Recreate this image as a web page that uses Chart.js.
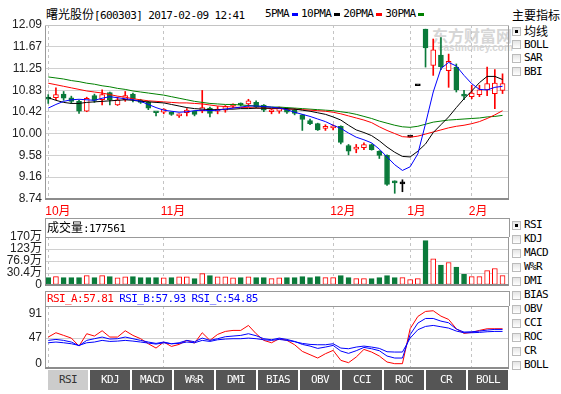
<!DOCTYPE html>
<html>
<head>
<meta charset="utf-8">
<title>曙光股份</title>
<script src="https://cdn.jsdelivr.net/npm/chart.js@4.4.1/dist/chart.umd.min.js"></script>
<style>
  body { margin: 0; width: 561px; height: 394px; position: relative; overflow: hidden; background: #fff;
         font-family: "Liberation Sans", "Noto Sans CJK SC", sans-serif; font-size: 12px; color: #000; }
  .abs { position: absolute; white-space: nowrap; }
  .cjk { font-family: "Noto Sans CJK SC", sans-serif; font-size: 12px; }
  .mono { font-family: "DejaVu Sans Mono", "Noto Sans CJK SC", monospace; font-size: 11px; letter-spacing: -0.6px; }
  canvas { position: absolute; left: 0; z-index: 1; }
  .box { position: absolute; left: 45px; width: 463px; border: 1px solid #999; border-bottom: none; z-index: 2; }
  .chk { position: absolute; left: 512px; width: 7px; height: 7px; border: 1px solid #bbb; background: linear-gradient(#e4e4e4, #fff); }
  .chk.on::after { content: ""; position: absolute; left: 2px; top: 2px; width: 3px; height: 3px; background: #000; }
  .item { position: absolute; left: 524px; line-height: 14px; white-space: nowrap; }
  .btn { position: absolute; top: 370px; width: 40px; height: 20px; line-height: 20px; text-align: center;
         background: #555; color: #fff; z-index: 3; }
  .btn.on { background: #ccc; color: #333; }
  .sq { display: inline-block; width: 6px; height: 3px; margin: 0 3px; vertical-align: middle; }
  #wm { position: absolute; left: 432px; top: 27px; color: #d6d6d6; z-index: 0; font-weight: bold; line-height: 16px; }
</style>
</head>
<body>

<div class="abs" style="left:46px;top:7px;line-height:14px;"><span class="cjk">曙光股份</span><span class="mono">[600303] 2017-02-09 12:41</span></div>
<div class="abs mono" style="left:265px;top:7px;line-height:14px;">5PMA<span class="sq" style="background:#0000ff"></span>10PMA<span class="sq" style="background:#000"></span>20PMA<span class="sq" style="background:#ff0000"></span>30PMA<span class="sq" style="background:#008000"></span></div>

<div id="wm"><div style="font-size:16px;font-family:'Noto Sans CJK SC',sans-serif;">东方财富网</div><div style="font-size:10px;padding-left:6px;line-height:10px;">eastmoney.com</div></div>

<div class="box" style="top:218px;height:18px;"><span style="position:absolute;left:1px;top:1px;line-height:14px;"><span class="cjk">成交量</span><span class="mono">:177561</span></span></div>
<div class="box mono" style="top:291px;height:14px;line-height:14px;">
  <span style="margin-left:1px;color:#ff0000">RSI_A:57.81</span> <span style="color:#0000ff">RSI_B:57.93</span> <span style="color:#0000ff">RSI_C:54.85</span>
</div>

<canvas id="main" width="511" height="204" style="top:14px"></canvas>
<canvas id="vol" width="511" height="78" style="top:218px"></canvas>
<canvas id="rsi" width="511" height="88" style="top:291px"></canvas>

<div class="abs cjk" style="left:512px;top:8px;line-height:14px;">主要指标</div>
<div id="side"></div>

<script>
// ---- values ----
const monthLabels = ['10月', '11月', '12月', '1月', '2月'];
const monthStart = [0, 15, 37, 47, 55];          // candle index where each month starts

const priceTicks = [8.74, 9.16, 9.58, 10.00, 10.42, 10.83, 11.25, 11.67, 12.09];
const volTicks = [-16, 30.4, 76.9, 123, 170];     // panel floor is labelled "0"
const rsiTicks = [0, 47, 91];

const open = [
  10.70, 10.69, 10.76, 10.69, 10.62, 10.43, 10.73, 10.65, 10.79, 10.55,
  10.65, 10.76, 10.64, 10.60, 10.41, 10.41, 10.41, 10.34, 10.40, 10.43,
  10.44, 10.49, 10.43, 10.45, 10.53, 10.57, 10.57, 10.60, 10.55, 10.42,
  10.43, 10.47, 10.45, 10.36, 10.25, 10.19, 10.10, 10.11, 10.14, 9.77,
  9.70, 9.73, 9.79, 9.66, 9.58, 9.08, 9.03, 9.93, 10.92, 12.01,
  11.31, 11.51, 11.21, 11.28, 10.74, 10.71, 10.75, 10.84, 10.77, 10.83
];
const close = [
  10.66, 10.75, 10.68, 10.62, 10.43, 10.68, 10.64, 10.75, 10.65, 10.65,
  10.73, 10.66, 10.60, 10.49, 10.40, 10.47, 10.37, 10.35, 10.45, 10.37,
  10.50, 10.39, 10.47, 10.52, 10.55, 10.55, 10.63, 10.51, 10.45, 10.43,
  10.50, 10.41, 10.39, 10.27, 10.19, 10.07, 10.11, 10.12, 9.83, 9.66,
  9.71, 9.79, 9.69, 9.58, 9.02, 9.05, 9.03, 9.93, 10.92, 11.65,
  11.61, 11.29, 11.39, 10.84, 10.72, 10.78, 10.84, 10.96, 10.97, 10.96
];
const high = [
  10.75, 10.88, 10.81, 10.72, 10.64, 10.70, 10.76, 10.84, 10.80, 10.70,
  10.81, 10.78, 10.66, 10.62, 10.41, 10.48, 10.42, 10.38, 10.48, 10.44,
  10.83, 10.51, 10.52, 10.54, 10.57, 10.59, 10.66, 10.63, 10.56, 10.47,
  10.51, 10.49, 10.48, 10.37, 10.28, 10.20, 10.17, 10.17, 10.15, 9.79,
  9.79, 9.82, 9.80, 9.67, 9.59, 9.09, 9.11, 9.93, 10.92, 12.01,
  11.82, 11.85, 11.53, 11.34, 10.83, 10.93, 10.93, 11.28, 11.23, 11.15
];
const low = [
  10.58, 10.65, 10.64, 10.58, 10.39, 10.42, 10.60, 10.55, 10.55, 10.54,
  10.62, 10.61, 10.58, 10.46, 10.34, 10.38, 10.35, 10.31, 10.34, 10.34,
  10.40, 10.32, 10.38, 10.41, 10.50, 10.53, 10.52, 10.50, 10.42, 10.38,
  10.39, 10.39, 10.36, 10.06, 10.17, 10.06, 10.06, 10.07, 9.80, 9.59,
  9.63, 9.69, 9.68, 9.52, 9.00, 8.85, 8.88, 9.93, 10.92, 11.28,
  11.12, 11.23, 10.89, 10.80, 10.65, 10.67, 10.71, 10.73, 10.48, 10.77
];

const ma5 = [
  10.49, 10.56, 10.62, 10.65, 10.66, 10.65, 10.64, 10.68, 10.71, 10.69,
  10.67, 10.65, 10.62, 10.56, 10.50, 10.45, 10.43, 10.41, 10.42, 10.44,
  10.45, 10.44, 10.45, 10.47, 10.49, 10.51, 10.53, 10.53, 10.52, 10.51,
  10.49, 10.46, 10.41, 10.37, 10.33, 10.28, 10.23, 10.16, 10.10, 10.01,
  9.93, 9.88, 9.82, 9.70, 9.55, 9.40, 9.29, 9.36, 9.61, 10.19,
  10.80, 11.25, 11.37, 11.30, 11.12, 10.96, 10.85, 10.84, 10.89, 10.91
];
const ma10 = [
  10.69, 10.64, 10.60, 10.58, 10.58, 10.60, 10.61, 10.62, 10.63, 10.64,
  10.65, 10.64, 10.62, 10.61, 10.60, 10.59, 10.56, 10.53, 10.50, 10.48,
  10.47, 10.46, 10.46, 10.47, 10.47, 10.48, 10.48, 10.49, 10.49, 10.49,
  10.49, 10.48, 10.47, 10.45, 10.43, 10.40, 10.37, 10.32, 10.26, 10.16,
  10.07, 10.02, 9.96, 9.86, 9.74, 9.64, 9.56, 9.55, 9.66, 9.80,
  10.02, 10.17, 10.32, 10.50, 10.67, 10.82, 10.98, 11.10, 11.10, 11.04
];
const ma20 = [
  10.97, 10.94, 10.91, 10.88, 10.85, 10.82, 10.80, 10.78, 10.75, 10.72,
  10.70, 10.67, 10.65, 10.63, 10.62, 10.61, 10.60, 10.59, 10.59, 10.58,
  10.57, 10.55, 10.53, 10.52, 10.51, 10.50, 10.50, 10.49, 10.49, 10.48,
  10.48, 10.47, 10.47, 10.46, 10.45, 10.44, 10.43, 10.41, 10.38, 10.34,
  10.30, 10.26, 10.21, 10.13, 10.06, 10.00, 9.94, 9.93, 9.95, 9.99,
  10.03, 10.07, 10.11, 10.14, 10.16, 10.19, 10.23, 10.29, 10.36, 10.44
];
const ma30 = [
  11.09, 11.07, 11.05, 11.02, 11.00, 10.97, 10.95, 10.92, 10.90, 10.87,
  10.85, 10.82, 10.80, 10.78, 10.76, 10.74, 10.71, 10.68, 10.65, 10.62,
  10.60, 10.58, 10.57, 10.56, 10.56, 10.55, 10.54, 10.53, 10.52, 10.51,
  10.51, 10.50, 10.49, 10.48, 10.47, 10.46, 10.45, 10.44, 10.42, 10.40,
  10.37, 10.33, 10.29, 10.24, 10.20, 10.16, 10.13, 10.12, 10.14, 10.18,
  10.22, 10.24, 10.26, 10.27, 10.28, 10.29, 10.30, 10.32, 10.33, 10.35
];

// volume in 万
const volume = [
  12.7, 16.6, 12.7, 12.7, 12.7, 20.5, 12.7, 20.5, 16.6, 11.4,
  15.3, 16.6, 12.7, 12.7, 12.7, 11.4, 12.7, 15.3, 15.3, 8.8,
  28.3, 20.5, 15.3, 15.3, 11.4, 12.7, 15.3, 12.7, 12.7, 8.8,
  12.0, 12.7, 12.7, 16.6, 12.7, 16.6, 12.7, 12.7, 20.5, 12.7,
  8.8, 8.8, 8.8, 12.7, 20.5, 12.7, 12.7, 4.9, 8.8, 155.7,
  85.5, 60.8, 71.2, 53.0, 25.7, 16.6, 16.6, 40.0, 47.8, 20.5
];

const rsiA = [
  48.9, 56.7, 51.9, 47.0, 32.6, 54.9, 50.7, 60.3, 48.9, 48.9,
  60.3, 51.9, 45.9, 36.8, 29.0, 39.9, 32.0, 35.6, 42.9, 38.0,
  56.7, 42.9, 53.7, 59.1, 60.9, 60.9, 69.9, 54.9, 42.9, 38.6,
  45.9, 42.9, 35.0, 23.0, 17.0, 11.0, 18.8, 24.8, 6.8, 2.6,
  12.8, 26.6, 21.8, 14.6, 3.8, 0.8, 0.8, 63.9, 86.1, 95.2,
  96.4, 86.7, 80.7, 63.9, 55.5, 57.3, 60.9, 63.9, 63.9, 63.9
];
const rsiB = [
  42.9, 44.6, 42.9, 39.9, 33.2, 42.9, 45.9, 48.9, 45.3, 45.9,
  48.9, 45.9, 42.9, 39.9, 37.4, 39.9, 36.8, 38.6, 42.9, 40.5,
  47.0, 42.9, 45.9, 49.5, 50.7, 51.9, 54.9, 51.3, 45.9, 44.0,
  47.0, 44.6, 41.0, 35.6, 32.6, 28.4, 30.8, 33.8, 23.6, 19.4,
  24.2, 30.2, 27.8, 24.2, 14.6, 11.0, 11.0, 53.1, 74.1, 82.5,
  82.5, 77.7, 74.7, 63.3, 57.9, 58.5, 59.7, 61.5, 62.7, 62.7
];
const rsiC = [
  38.6, 39.9, 38.6, 36.8, 33.8, 38.6, 39.9, 42.9, 41.0, 41.6,
  42.9, 41.6, 39.9, 38.0, 36.2, 38.6, 36.8, 37.4, 39.9, 38.6,
  42.9, 41.0, 44.0, 45.3, 45.9, 45.9, 47.0, 45.9, 44.0, 42.9,
  44.6, 42.9, 40.5, 37.4, 35.6, 35.0, 35.0, 36.8, 29.0, 27.8,
  30.8, 32.6, 30.8, 28.4, 22.4, 21.8, 21.8, 47.0, 62.1, 68.1,
  69.9, 67.5, 65.1, 59.7, 56.7, 56.7, 57.3, 58.5, 59.1, 59.1
];

const mainIndicators = ['均线', 'BOLL', 'SAR', 'BBI'];
const subIndicators = ['RSI', 'KDJ', 'MACD', 'W%R', 'DMI', 'BIAS', 'OBV', 'CCI', 'ROC', 'CR', 'BOLL'];

// ---- colours ----
const UP = '#ff0000';
const DOWN = '#0a7a3a';
const FLAT = '#000000';

// ---- side lists and bottom buttons ----
const side = document.getElementById('side');
function addItem(label, cy, checked) {
  const c = document.createElement('div');
  c.className = 'chk' + (checked ? ' on' : '');
  c.style.top = (cy - 4.5) + 'px';
  side.appendChild(c);
  const t = document.createElement('div');
  t.className = 'item ' + (/^[A-Z%]+$/.test(label) ? 'mono' : 'cjk');
  t.style.top = (cy - 7) + 'px';
  t.textContent = label;
  side.appendChild(t);
}
mainIndicators.forEach((s, i) => addItem(s, 31 + i * 13.6, i === 0));
subIndicators.forEach((s, i) => addItem(s, 225 + i * 14, i === 0));
subIndicators.forEach((s, i) => {
  const b = document.createElement('div');
  b.className = 'btn mono' + (i === 0 ? ' on' : '');
  b.style.left = (48 + i * 42) + 'px';
  b.textContent = s;
  document.body.appendChild(b);
});

// ---- charts ----
Chart.defaults.font.family = '"Liberation Sans", "Noto Sans CJK SC", sans-serif';
Chart.defaults.font.size = 12;

const framePlugin = {
  id: 'frame',
  afterDraw(chart, args, opts) {
    const { ctx, chartArea: a } = chart;
    ctx.save();
    ctx.lineWidth = 1;
    ctx.strokeStyle = opts.side;
    ctx.beginPath();
    ctx.moveTo(a.left + 0.5, a.top); ctx.lineTo(a.left + 0.5, a.bottom);
    ctx.moveTo(a.right - 0.5, a.top); ctx.lineTo(a.right - 0.5, a.bottom);
    ctx.stroke();
    ctx.strokeStyle = opts.top;
    ctx.beginPath();
    ctx.moveTo(a.left, a.top + 0.5); ctx.lineTo(a.right, a.top + 0.5);
    ctx.stroke();
    ctx.lineWidth = 2;
    ctx.strokeStyle = '#8c8c8c';
    ctx.beginPath();
    ctx.moveTo(a.left, a.bottom); ctx.lineTo(a.right, a.bottom);
    ctx.stroke();
    ctx.restore();
  }
};

function xAxis(extra) {
  return Object.assign({
    type: 'linear', min: -0.42, max: 59.84, offset: false,
    afterBuildTicks: s => { s.ticks = monthStart.map(v => ({ value: v })); },
    grid: { color: '#c4c4c4', drawTicks: false, offset: false },
    border: { display: false, dash: [3, 3] },
    ticks: { display: false }
  }, extra);
}

function yAxis(ticks, min, max, extra) {
  return Object.assign({
    min: min, max: max, beginAtZero: false,
    afterBuildTicks: s => { s.ticks = ticks.map(v => ({ value: v })); },
    afterFit: s => { s.width = 45; },
    grid: { color: '#d0d0d0', drawTicks: false },
    border: { display: false },
    ticks: { padding: 3, color: '#222', autoSkip: false }
  }, extra);
}

const common = {
  responsive: false, animation: false, devicePixelRatio: 1, events: [],
  plugins: { legend: { display: false }, tooltip: { enabled: false } }
};

const idx = close.map((c, i) => i);
const isUp = i => close[i] > open[i];
const isDown = i => close[i] < open[i];
const lineSet = (arr, color) => ({
  type: 'line', data: arr.map((v, i) => ({ x: i, y: v })), borderColor: color,
  borderWidth: 1, pointRadius: 0, tension: 0, fill: false, order: 0
});

new Chart(document.getElementById('main'), {
  type: 'bar',
  data: {
    datasets: [
      lineSet(ma5, '#0000ff'),
      lineSet(ma10, '#000000'),
      lineSet(ma20, '#ff0000'),
      lineSet(ma30, '#008000'),
      {
        data: idx.map(i => ({ x: i, y: [open[i], close[i]] })),
        backgroundColor: idx.map(i => isUp(i) ? '#ffffff' : isDown(i) ? DOWN : FLAT),
        borderColor: idx.map(i => isUp(i) ? UP : isDown(i) ? DOWN : FLAT),
        borderWidth: 1, borderSkipped: false, barThickness: 5, minBarLength: 2,
        grouped: false, order: 1
      },
      {
        data: idx.map(i => ({ x: i, y: [low[i], high[i]] })),
        backgroundColor: idx.map(i => isUp(i) ? UP : isDown(i) ? DOWN : FLAT),
        borderWidth: 0, barThickness: 1, grouped: false, order: 2
      }
    ]
  },
  options: Object.assign({}, common, {
    layout: { padding: { top: 11, right: 2, left: 0, bottom: 0 } },
    scales: {
      x: xAxis({
        afterFit: s => { s.height = 19; },
        ticks: {
          display: true, color: '#ff0000', align: 'start', padding: 5, labelOffset: -3,
          autoSkip: false, maxRotation: 0, font: { size: 12 },
          callback: (v, i) => monthLabels[i]
        }
      }),
      y: yAxis(priceTicks, 8.74, 12.09, {
        ticks: { padding: 3, color: '#222', autoSkip: false, callback: v => v.toFixed(2) }
      })
    },
    plugins: Object.assign({}, common.plugins, { frame: { side: '#999', top: '#c4c4c4' } })
  }),
  plugins: [framePlugin]
});

new Chart(document.getElementById('vol'), {
  type: 'bar',
  data: {
    datasets: [{
      data: idx.map(i => ({ x: i, y: volume[i] })),
      base: volTicks[0],
      backgroundColor: idx.map(i => isDown(i) ? DOWN : '#ffffff'),
      borderColor: idx.map(i => isDown(i) ? DOWN : UP),
      borderWidth: 1, borderSkipped: false, barThickness: 5, grouped: false
    }]
  },
  options: Object.assign({}, common, {
    layout: { padding: { top: 19, right: 2, left: 0, bottom: 6 } },
    scales: {
      x: xAxis({ afterFit: s => { s.height = 5; } }),
      y: yAxis(volTicks, volTicks[0], 170, {
        ticks: { padding: 3, color: '#222', autoSkip: false, callback: v => v < 0 ? '0' : v + '万' }
      })
    },
    plugins: Object.assign({}, common.plugins, { frame: { side: '#999', top: '#999' } })
  }),
  plugins: [framePlugin]
});

new Chart(document.getElementById('rsi'), {
  type: 'line',
  data: {
    datasets: [
      lineSet(rsiC, '#0000ff'),
      lineSet(rsiB, '#0000ff'),
      lineSet(rsiA, '#ff0000')
    ]
  },
  options: Object.assign({}, common, {
    layout: { padding: { top: 15, right: 2, left: 0, bottom: 9 } },
    scales: {
      x: xAxis({ afterFit: s => { s.height = 2; } }),
      y: yAxis(rsiTicks, -7, 105, {
        grid: { color: c => (c.tick && c.tick.value === 47) ? '#d0d0d0' : 'rgba(0,0,0,0)', drawTicks: false }
      })
    },
    plugins: Object.assign({}, common.plugins, { frame: { side: '#999', top: '#999' } })
  }),
  plugins: [framePlugin]
});
</script>
</body>
</html>
